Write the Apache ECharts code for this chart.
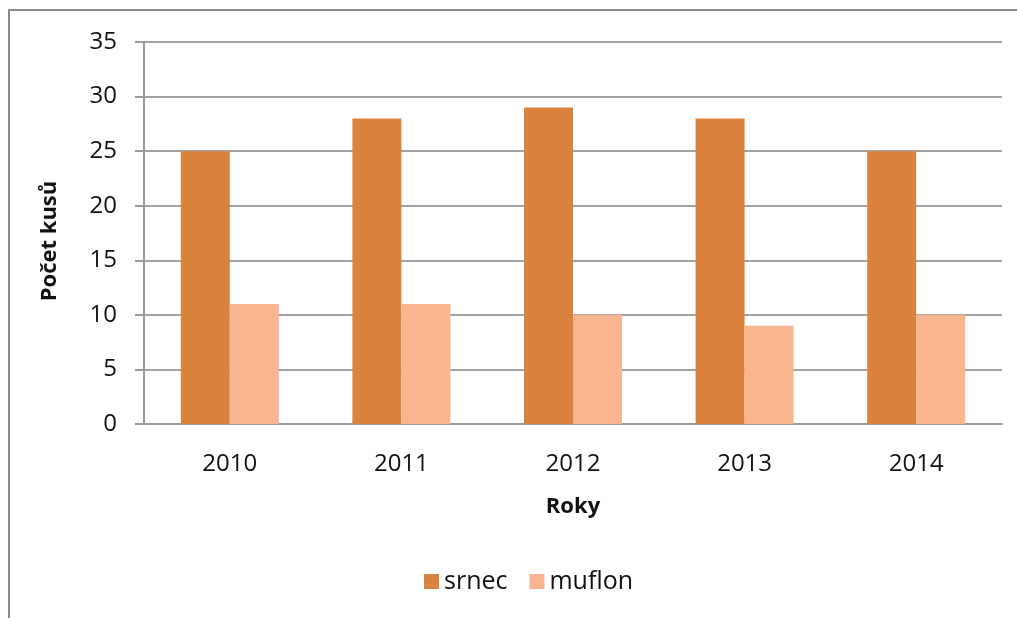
<!DOCTYPE html>
<html>
<head>
<meta charset="utf-8">
<script src="https://cdn.jsdelivr.net/npm/echarts@6/dist/echarts.min.js"></script>
<style>
  html, body { margin: 0; padding: 0; background: #fff; }
  #chart { width: 1017px; height: 618px; }
</style>
</head>
<body>
<div id="chart"></div>
<script>
// Years on the category axis
const years = ['2010', '2011', '2012', '2013', '2014'];
// Counts per species
const srnec = [25, 28, 29, 28, 25];
const muflon = [11, 11, 10, 9, 10];
// Value axis range
const yMin = 0;
const yMax = 35;
const yStep = 5;

const FONT = '"Open Sans", "Noto Sans", sans-serif';

const chart = echarts.init(document.getElementById('chart'));
chart.setOption({
  backgroundColor: '#ffffff',
  animation: false,
  graphic: [{
    type: 'rect',
    shape: { x: 9, y: 10, width: 1100, height: 700 },
    style: { fill: 'none', stroke: '#8a8a8a', lineWidth: 2 },
    silent: true
  }],
  grid: { left: 144, right: 15, top: 42, bottom: 194 },
  legend: {
    bottom: 19,
    left: 419,
    itemWidth: 15,
    itemHeight: 15,
    itemGap: 22,
    icon: 'rect',
    textStyle: { fontFamily: FONT, fontSize: 25, color: '#111' },
    data: ['srnec', 'muflon']
  },
  xAxis: {
    type: 'category',
    data: years,
    name: 'Roky',
    nameLocation: 'middle',
    nameGap: 72,
    nameTextStyle: { fontFamily: FONT, fontSize: 22, fontWeight: 'bold', color: '#111' },
    axisLine: { lineStyle: { color: '#9a9a9a', width: 2 } },
    axisTick: { show: false },
    axisLabel: { fontFamily: FONT, fontSize: 24, color: '#111', margin: 28 }
  },
  yAxis: {
    type: 'value',
    min: yMin,
    max: yMax,
    interval: yStep,
    name: 'Počet kusů',
    nameLocation: 'middle',
    nameGap: 83,
    nameRotate: 90,
    nameTextStyle: { fontFamily: FONT, fontSize: 22, fontWeight: 'bold', color: '#111', padding: [0, 16, 0, 0] },
    axisLine: { show: true, lineStyle: { color: '#9a9a9a', width: 2 } },
    axisTick: { show: true, inside: false, length: 9, lineStyle: { color: '#9a9a9a', width: 2 } },
    axisLabel: { fontFamily: FONT, fontSize: 24, color: '#111', margin: 27 },
    splitLine: { lineStyle: { color: '#a3a3a3', width: 2 } }
  },
  series: [
    {
      name: 'srnec',
      type: 'bar',
      data: srnec,
      barWidth: 49,
      barGap: '0%',
      itemStyle: { color: '#da833f' }
    },
    {
      name: 'muflon',
      type: 'bar',
      data: muflon,
      barWidth: 49,
      barGap: '0%',
      itemStyle: { color: '#f8b590' }
    }
  ]
});
</script>
</body>
</html>
